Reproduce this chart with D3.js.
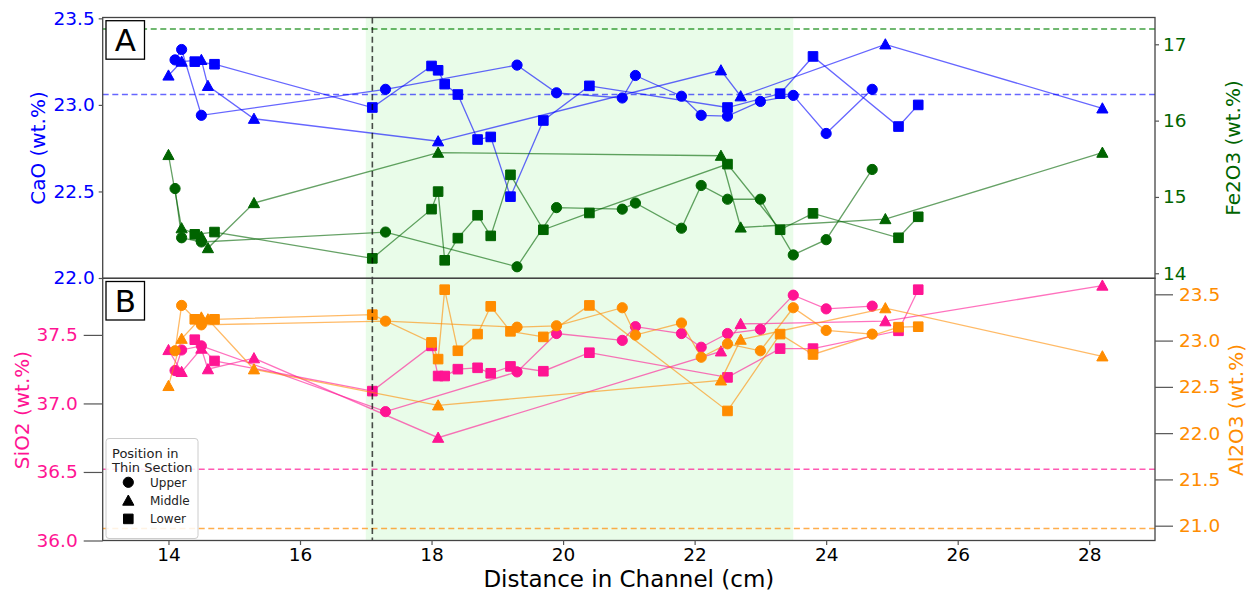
<!DOCTYPE html>
<html>
<head>
<meta charset="utf-8">
<script src="https://cdn.jsdelivr.net/npm/d3@7"></script>
<style>
  body { margin: 0; background: #fff; }
  svg { display: block; font-family: "DejaVu Sans", sans-serif; }
</style>
</head>
<body>
<svg id="chart" width="1251" height="595"></svg>
<script>
// ---- Measurements along the channel, grouped by position in the thin section ----
// Upper (circles)
const upperDist  = [14.1, 14.2, 14.5, 17.3, 19.3, 19.9, 20.9, 21.1, 21.8, 22.1, 22.5, 23.0, 23.5, 24.0, 24.7];
const upperCaO   = [23.26, 23.32, 22.94, 23.09, 23.23, 23.07, 23.04, 23.17, 23.05, 22.94, 22.935, 23.02, 23.055, 22.835, 23.09];
const upperFe2O3 = [15.11, 14.465, 14.41, 14.54, 14.085, 14.86, 14.84, 14.92, 14.59, 15.15, 14.97, 14.97, 14.24, 14.44, 15.36];
const upperSiO2  = [37.24, 37.39, 37.42, 36.94, 37.23, 37.51, 37.46, 37.56, 37.51, 37.41, 37.51, 37.54, 37.79, 37.69, 37.71];
const upperAl2O3 = [22.89, 23.38, 23.17, 23.21, 23.145, 23.16, 23.355, 23.06, 23.19, 22.82, 22.965, 22.89, 23.355, 23.11, 23.07];

// Middle (triangles)
const middleDist  = [14.0, 14.2, 14.5, 14.6, 15.3, 18.1, 22.4, 22.7, 24.9, 28.2];
const middleCaO   = [23.17, 23.25, 23.26, 23.11, 22.92, 22.79, 23.20, 23.05, 23.35, 22.98];
const middleFe2O3 = [15.55, 14.59, 14.48, 14.33, 14.92, 15.58, 15.54, 14.60, 14.71, 15.58];
const middleSiO2  = [37.39, 37.23, 37.40, 37.25, 37.33, 36.75, 37.38, 37.58, 37.60, 37.86];
const middleAl2O3 = [22.51, 23.02, 23.25, 23.23, 22.69, 22.30, 22.57, 23.01, 23.35, 22.83];

// Lower (squares)
const lowerDist  = [14.4, 14.7, 17.1, 18.0, 18.1, 18.2, 18.4, 18.7, 18.9, 19.2, 19.7, 20.4, 22.5, 23.3, 23.8, 25.1, 25.4];
const lowerCaO   = [23.25, 23.235, 22.985, 23.225, 23.20, 23.12, 23.06, 22.80, 22.815, 22.47, 22.91, 23.11, 22.985, 23.065, 23.28, 22.875, 23.0];
const lowerFe2O3 = [14.51, 14.54, 14.195, 14.84, 15.07, 14.17, 14.46, 14.76, 14.49, 15.29, 14.57, 14.79, 15.43, 14.57, 14.785, 14.465, 14.74];
const lowerSiO2  = [37.465, 37.31, 37.09, 37.42, 37.20, 37.20, 37.25, 37.26, 37.22, 37.27, 37.235, 37.37, 37.19, 37.40, 37.40, 37.53, 37.83];
const lowerAl2O3 = [23.23, 23.23, 23.28, 22.98, 22.80, 23.55, 22.89, 23.07, 23.37, 23.10, 23.04, 23.38, 22.24, 23.07, 22.85, 23.145, 23.15];

// Reference levels (dashed lines) and highlighted channel interval
const refCaO = 23.06, refFe2O3 = 17.2, refSiO2 = 36.52, refAl2O3 = 20.97;
const markerDistance = 17.1;
const zoneRange = [17.0, 23.5];

// Tick values
const xTicks = [14, 16, 18, 20, 22, 24, 26, 28];
const caoTicks = [22.0, 22.5, 23.0, 23.5];
const feTicks = [14, 15, 16, 17];
const siTicks = [36.0, 36.5, 37.0, 37.5];
const alTicks = [21.0, 21.5, 22.0, 22.5, 23.0, 23.5];

// ---- Layout ----
const svg = d3.select("#chart");
const L = 102.7, R = 1155;
const topA = 17.5, botA = 278.3, topB = 278.3, botB = 540.5;

const x = d3.scaleLinear().domain([13, 29]).range([L, R]);
const yCaO = d3.scaleLinear().domain([22.0, 23.505]).range([278, topA]);
const yFe = d3.scaleLinear().domain([13.938, 17.351]).range([278, topA]);
const ySi = d3.scaleLinear().domain([36.0, 37.913]).range([botB, topB]);
const yAl = d3.scaleLinear().domain([20.84, 23.673]).range([botB, topB]);

const C = {
  cao: "#0000ff", fe: "#006400", si: "#ff1493", al: "#ff8c00"
};

// Shaded interval and background
[[topA, botA], [topB, botB]].forEach(([t, b]) => {
  svg.append("rect")
    .attr("x", x(zoneRange[0])).attr("y", t)
    .attr("width", x(zoneRange[1]) - x(zoneRange[0])).attr("height", b - t)
    .attr("fill", "rgb(144,238,144)").attr("fill-opacity", 0.2);
});

// Marker shapes
function markerPath(kind) {
  if (kind === "circle") return d3.symbol(d3.symbolCircle, Math.PI * 5.1 * 5.1)();
  if (kind === "square") return "M-4.8,-4.8H4.8V4.8H-4.8Z";
  return "M0,-5.6L5.6,4.6L-5.6,4.6Z";
}

function dashedH(y, color, opacity) {
  svg.append("line")
    .attr("x1", L).attr("x2", R).attr("y1", y).attr("y2", y)
    .attr("stroke", color).attr("stroke-opacity", opacity)
    .attr("stroke-width", 1.6).attr("stroke-dasharray", "6,3.6");
}

function drawSeries(dist, vals, yScale, color, kind) {
  const pts = dist.map((d, i) => [x(d), yScale(vals[i])]);
  svg.append("path")
    .attr("d", d3.line()(pts))
    .attr("fill", "none").attr("stroke", color)
    .attr("stroke-opacity", 0.6).attr("stroke-width", 1.3);
  svg.append("g").selectAll("path").data(pts).join("path")
    .attr("transform", p => `translate(${p[0]},${p[1]})`)
    .attr("d", markerPath(kind))
    .attr("fill", color).attr("stroke", color).attr("stroke-width", 1);
}

// ---- Panel A: CaO (left) and Fe2O3 (right) ----
dashedH(yCaO(refCaO), C.cao, 0.6);
[["circle", upperDist, upperCaO], ["triangle", middleDist, middleCaO], ["square", lowerDist, lowerCaO]]
  .forEach(([k, d, v]) => drawSeries(d, v, yCaO, C.cao, k));
dashedH(yFe(refFe2O3), "#008000", 0.75);
[["circle", upperDist, upperFe2O3], ["triangle", middleDist, middleFe2O3], ["square", lowerDist, lowerFe2O3]]
  .forEach(([k, d, v]) => drawSeries(d, v, yFe, C.fe, k));

// ---- Panel B: SiO2 (left) and Al2O3 (right) ----
dashedH(ySi(refSiO2), C.si, 0.7);
[["circle", upperDist, upperSiO2], ["triangle", middleDist, middleSiO2], ["square", lowerDist, lowerSiO2]]
  .forEach(([k, d, v]) => drawSeries(d, v, ySi, C.si, k));
dashedH(yAl(refAl2O3), C.al, 0.7);
[["circle", upperDist, upperAl2O3], ["triangle", middleDist, middleAl2O3], ["square", lowerDist, lowerAl2O3]]
  .forEach(([k, d, v]) => drawSeries(d, v, yAl, C.al, k));

// Vertical marker line across both panels
[[topA, botA], [topB, botB]].forEach(([t, b]) => {
  svg.append("line")
    .attr("x1", x(markerDistance)).attr("x2", x(markerDistance))
    .attr("y1", t).attr("y2", b)
    .attr("stroke", "#000").attr("stroke-opacity", 0.7)
    .attr("stroke-width", 1.6).attr("stroke-dasharray", "6,3.6");
});

// Panel frames
[[topA, botA], [topB, botB]].forEach(([t, b]) => {
  svg.append("rect").attr("x", L).attr("y", t).attr("width", R - L).attr("height", b - t)
    .attr("fill", "none").attr("stroke", "#444").attr("stroke-width", 1.3);
});

// ---- Axes ----
function styleAxis(g, color, size) {
  g.select(".domain").remove();
  g.selectAll(".tick line").attr("stroke", "#555").attr("stroke-width", 1.2);
  g.selectAll(".tick text").attr("fill", color).style("font-size", size + "px")
    .style("font-family", "DejaVu Sans");
}

svg.append("g").attr("transform", `translate(${L},0)`)
  .call(d3.axisLeft(yCaO).tickValues(caoTicks).tickFormat(d3.format(".1f")).tickSize(4).tickPadding(4))
  .call(g => styleAxis(g, C.cao, 18.5));
svg.append("g").attr("transform", `translate(${R},0)`)
  .call(d3.axisRight(yFe).tickValues(feTicks).tickFormat(d3.format("d")).tickSize(4).tickPadding(4))
  .call(g => styleAxis(g, C.fe, 18.5));
svg.append("g").attr("transform", `translate(${L},0)`)
  .call(d3.axisLeft(ySi).tickValues(siTicks).tickFormat(d3.format(".1f")).tickSize(19).tickPadding(6))
  .call(g => styleAxis(g, C.si, 18.5));
svg.append("g").attr("transform", `translate(${R},0)`)
  .call(d3.axisRight(yAl).tickValues(alTicks).tickFormat(d3.format(".1f")).tickSize(18).tickPadding(6))
  .call(g => styleAxis(g, C.al, 18.5));
svg.append("g").attr("transform", `translate(0,${botB})`)
  .call(d3.axisBottom(x).tickValues(xTicks).tickFormat(d3.format("d")).tickSize(4.5).tickPadding(3))
  .call(g => styleAxis(g, "#000", 18.5));

// Axis titles
function vTitle(text, cx, cy, color) {
  svg.append("text").attr("transform", `translate(${cx},${cy}) rotate(-90)`)
    .attr("text-anchor", "middle").attr("dominant-baseline", "central")
    .attr("fill", color).style("font-size", "20px").text(text);
}
vTitle("CaO (wt.%)", 38, 148, C.cao);
vTitle("SiO2 (wt.%)", 22, 410, C.si);
vTitle("Fe2O3 (wt.%)", 1233, 148, C.fe);
vTitle("Al2O3 (wt.%)", 1236, 410, C.al);

svg.append("text").attr("x", (L + R) / 2).attr("y", 587)
  .attr("text-anchor", "middle").attr("fill", "#000")
  .style("font-size", "23px").text("Distance in Channel (cm)");

// Panel letters
[["A", topA], ["B", topB]].forEach(([lab, t]) => {
  svg.append("rect").attr("x", 106).attr("y", t + 3.2).attr("width", 38.5).attr("height", 38.5)
    .attr("fill", "#fff").attr("stroke", "#000").attr("stroke-width", 1.3);
  svg.append("text").attr("x", 125.3).attr("y", t + 33.5).attr("text-anchor", "middle")
    .attr("fill", "#000").style("font-size", "31px").text(lab);
});

// ---- Legend ----
const lg = svg.append("g").attr("transform", "translate(106,438.5)");
lg.append("rect").attr("width", 92).attr("height", 100).attr("rx", 3)
  .attr("fill", "#fff").attr("fill-opacity", 0.85).attr("stroke", "#ccc").attr("stroke-width", 1);
lg.append("text").attr("x", 6).attr("y", 19).style("font-size", "13px").attr("fill", "#222").text("Position in");
lg.append("text").attr("x", 6).attr("y", 33.5).style("font-size", "13px").attr("fill", "#222").text("Thin Section");
const legendItems = ["Upper", "Middle", "Lower"];
const legendKinds = ["circle", "triangle", "square"];
legendItems.forEach((name, i) => {
  const cy = 43.8 + i * 18.3;
  lg.append("path").attr("transform", `translate(22.3,${cy})`).attr("d", markerPath(legendKinds[i]))
    .attr("fill", "#000").attr("stroke", "#000");
  lg.append("text").attr("x", 44).attr("y", cy + 4.3).style("font-size", "12px").attr("fill", "#222").text(name);
});
</script>
</body>
</html>
